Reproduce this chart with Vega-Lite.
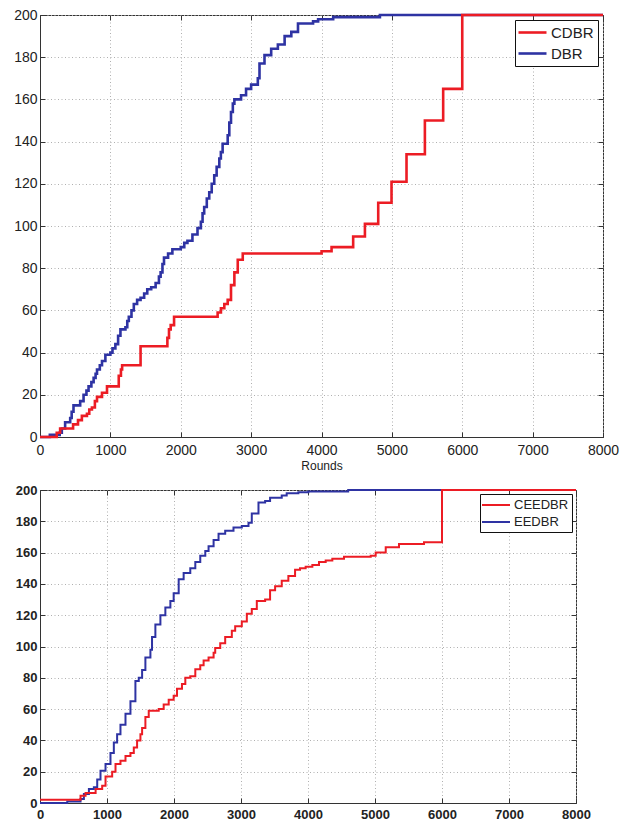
{
  "$schema": "https://vega.github.io/schema/vega-lite/v6.json",
  "padding": {"left": 13, "top": 7, "right": 5, "bottom": 5},
  "background": "white",
  "spacing": 11,
  "config": {
    "font": "Liberation Sans",
    "view": {"stroke": "#333333", "strokeWidth": 1},
    "axis": {"domainColor": "#333333", "tickColor": "#333333", "labelColor": "#222222", "gridColor": "#b0b0b0", "gridDash": [1, 2.5], "gridOpacity": 1, "gridWidth": 1, "tickSize": -5, "labelFlush": false, "labelOverlap": false}
  },
  "datasets": {
    "top": [
      {"x":0,"y":0,"s":"DBR"},{"x":140,"y":1,"s":"DBR"},{"x":280,"y":2,"s":"DBR"},{"x":310,"y":4,"s":"DBR"},{"x":357,"y":7,"s":"DBR"},{"x":429,"y":9,"s":"DBR"},{"x":450,"y":12,"s":"DBR"},{"x":476,"y":15,"s":"DBR"},{"x":571,"y":17,"s":"DBR"},{"x":619,"y":20,"s":"DBR"},{"x":660,"y":22,"s":"DBR"},{"x":690,"y":24,"s":"DBR"},{"x":730,"y":26,"s":"DBR"},{"x":762,"y":28,"s":"DBR"},{"x":790,"y":30,"s":"DBR"},{"x":810,"y":32,"s":"DBR"},{"x":850,"y":34,"s":"DBR"},{"x":881,"y":36,"s":"DBR"},{"x":929,"y":39,"s":"DBR"},{"x":1000,"y":40,"s":"DBR"},{"x":1030,"y":42,"s":"DBR"},{"x":1071,"y":44,"s":"DBR"},{"x":1110,"y":48,"s":"DBR"},{"x":1143,"y":51,"s":"DBR"},{"x":1214,"y":52,"s":"DBR"},{"x":1240,"y":55,"s":"DBR"},{"x":1262,"y":57,"s":"DBR"},{"x":1300,"y":60,"s":"DBR"},{"x":1333,"y":63,"s":"DBR"},{"x":1380,"y":65,"s":"DBR"},{"x":1429,"y":66,"s":"DBR"},{"x":1480,"y":68,"s":"DBR"},{"x":1524,"y":70,"s":"DBR"},{"x":1580,"y":71,"s":"DBR"},{"x":1643,"y":73,"s":"DBR"},{"x":1690,"y":76,"s":"DBR"},{"x":1714,"y":78,"s":"DBR"},{"x":1740,"y":82,"s":"DBR"},{"x":1762,"y":85,"s":"DBR"},{"x":1820,"y":87,"s":"DBR"},{"x":1881,"y":89,"s":"DBR"},{"x":2000,"y":90,"s":"DBR"},{"x":2050,"y":92,"s":"DBR"},{"x":2095,"y":93,"s":"DBR"},{"x":2166,"y":96,"s":"DBR"},{"x":2238,"y":99,"s":"DBR"},{"x":2286,"y":102,"s":"DBR"},{"x":2310,"y":106,"s":"DBR"},{"x":2333,"y":109,"s":"DBR"},{"x":2370,"y":113,"s":"DBR"},{"x":2405,"y":116,"s":"DBR"},{"x":2440,"y":120,"s":"DBR"},{"x":2476,"y":124,"s":"DBR"},{"x":2510,"y":128,"s":"DBR"},{"x":2548,"y":132,"s":"DBR"},{"x":2570,"y":135,"s":"DBR"},{"x":2595,"y":139,"s":"DBR"},{"x":2667,"y":143,"s":"DBR"},{"x":2690,"y":149,"s":"DBR"},{"x":2714,"y":154,"s":"DBR"},{"x":2740,"y":158,"s":"DBR"},{"x":2762,"y":160,"s":"DBR"},{"x":2857,"y":162,"s":"DBR"},{"x":2928,"y":165,"s":"DBR"},{"x":3000,"y":167,"s":"DBR"},{"x":3095,"y":170,"s":"DBR"},{"x":3119,"y":177,"s":"DBR"},{"x":3190,"y":181,"s":"DBR"},{"x":3285,"y":184,"s":"DBR"},{"x":3380,"y":186,"s":"DBR"},{"x":3476,"y":190,"s":"DBR"},{"x":3571,"y":192,"s":"DBR"},{"x":3666,"y":196,"s":"DBR"},{"x":3880,"y":197,"s":"DBR"},{"x":3952,"y":198,"s":"DBR"},{"x":4166,"y":199,"s":"DBR"},{"x":4830,"y":200,"s":"DBR"},{"x":8000,"y":200,"s":"DBR"},
      {"x":0,"y":0,"s":"CDBR"},{"x":238,"y":2,"s":"CDBR"},{"x":286,"y":4,"s":"CDBR"},{"x":470,"y":6,"s":"CDBR"},{"x":540,"y":8,"s":"CDBR"},{"x":595,"y":10,"s":"CDBR"},{"x":667,"y":11,"s":"CDBR"},{"x":700,"y":13,"s":"CDBR"},{"x":738,"y":14,"s":"CDBR"},{"x":780,"y":17,"s":"CDBR"},{"x":810,"y":19,"s":"CDBR"},{"x":881,"y":21,"s":"CDBR"},{"x":952,"y":24,"s":"CDBR"},{"x":1119,"y":29,"s":"CDBR"},{"x":1150,"y":32,"s":"CDBR"},{"x":1167,"y":34,"s":"CDBR"},{"x":1429,"y":43,"s":"CDBR"},{"x":1810,"y":47,"s":"CDBR"},{"x":1833,"y":51,"s":"CDBR"},{"x":1857,"y":53,"s":"CDBR"},{"x":1905,"y":57,"s":"CDBR"},{"x":2476,"y":57,"s":"CDBR"},{"x":2524,"y":59,"s":"CDBR"},{"x":2571,"y":61,"s":"CDBR"},{"x":2619,"y":63,"s":"CDBR"},{"x":2667,"y":65,"s":"CDBR"},{"x":2714,"y":72,"s":"CDBR"},{"x":2762,"y":78,"s":"CDBR"},{"x":2810,"y":84,"s":"CDBR"},{"x":2881,"y":87,"s":"CDBR"},{"x":4001,"y":88,"s":"CDBR"},{"x":4143,"y":90,"s":"CDBR"},{"x":4450,"y":95,"s":"CDBR"},{"x":4617,"y":101,"s":"CDBR"},{"x":4806,"y":111,"s":"CDBR"},{"x":4995,"y":121,"s":"CDBR"},{"x":5208,"y":134,"s":"CDBR"},{"x":5469,"y":150,"s":"CDBR"},{"x":5729,"y":165,"s":"CDBR"},{"x":6000,"y":200,"s":"CDBR"},{"x":8000,"y":200,"s":"CDBR"}
    ],
    "bottom": [
      {"x":0,"y":0,"s":"EEDBR"},{"x":407,"y":1,"s":"EEDBR"},{"x":605,"y":2.5,"s":"EEDBR"},{"x":655,"y":5.7,"s":"EEDBR"},{"x":730,"y":9,"s":"EEDBR"},{"x":804,"y":10,"s":"EEDBR"},{"x":854,"y":15,"s":"EEDBR"},{"x":903,"y":20.6,"s":"EEDBR"},{"x":978,"y":25,"s":"EEDBR"},{"x":1052,"y":32,"s":"EEDBR"},{"x":1102,"y":38.7,"s":"EEDBR"},{"x":1151,"y":44,"s":"EEDBR"},{"x":1201,"y":50,"s":"EEDBR"},{"x":1276,"y":57,"s":"EEDBR"},{"x":1350,"y":65,"s":"EEDBR"},{"x":1424,"y":78,"s":"EEDBR"},{"x":1474,"y":80,"s":"EEDBR"},{"x":1524,"y":85,"s":"EEDBR"},{"x":1573,"y":93,"s":"EEDBR"},{"x":1648,"y":98,"s":"EEDBR"},{"x":1672,"y":106,"s":"EEDBR"},{"x":1722,"y":114,"s":"EEDBR"},{"x":1797,"y":120,"s":"EEDBR"},{"x":1871,"y":125,"s":"EEDBR"},{"x":1946,"y":129,"s":"EEDBR"},{"x":1995,"y":134,"s":"EEDBR"},{"x":2070,"y":143,"s":"EEDBR"},{"x":2144,"y":147,"s":"EEDBR"},{"x":2243,"y":150,"s":"EEDBR"},{"x":2318,"y":154,"s":"EEDBR"},{"x":2392,"y":158,"s":"EEDBR"},{"x":2467,"y":161,"s":"EEDBR"},{"x":2516,"y":164,"s":"EEDBR"},{"x":2591,"y":168,"s":"EEDBR"},{"x":2665,"y":172,"s":"EEDBR"},{"x":2764,"y":174,"s":"EEDBR"},{"x":2888,"y":176,"s":"EEDBR"},{"x":3012,"y":177,"s":"EEDBR"},{"x":3112,"y":179,"s":"EEDBR"},{"x":3161,"y":185,"s":"EEDBR"},{"x":3261,"y":192,"s":"EEDBR"},{"x":3360,"y":193,"s":"EEDBR"},{"x":3434,"y":195,"s":"EEDBR"},{"x":3608,"y":196.5,"s":"EEDBR"},{"x":3682,"y":198,"s":"EEDBR"},{"x":3856,"y":198.5,"s":"EEDBR"},{"x":4005,"y":199,"s":"EEDBR"},{"x":4600,"y":200,"s":"EEDBR"},{"x":8000,"y":200,"s":"EEDBR"},
      {"x":0,"y":2,"s":"CEEDBR"},{"x":580,"y":2,"s":"CEEDBR"},{"x":605,"y":4.7,"s":"CEEDBR"},{"x":680,"y":6.4,"s":"CEEDBR"},{"x":830,"y":9,"s":"CEEDBR"},{"x":928,"y":11,"s":"CEEDBR"},{"x":978,"y":17,"s":"CEEDBR"},{"x":1077,"y":20,"s":"CEEDBR"},{"x":1127,"y":25,"s":"CEEDBR"},{"x":1201,"y":27,"s":"CEEDBR"},{"x":1276,"y":30,"s":"CEEDBR"},{"x":1350,"y":32,"s":"CEEDBR"},{"x":1400,"y":35.5,"s":"CEEDBR"},{"x":1449,"y":40,"s":"CEEDBR"},{"x":1499,"y":44,"s":"CEEDBR"},{"x":1524,"y":48,"s":"CEEDBR"},{"x":1573,"y":55,"s":"CEEDBR"},{"x":1623,"y":59,"s":"CEEDBR"},{"x":1772,"y":60,"s":"CEEDBR"},{"x":1846,"y":63,"s":"CEEDBR"},{"x":1921,"y":66,"s":"CEEDBR"},{"x":1995,"y":68.5,"s":"CEEDBR"},{"x":2045,"y":73,"s":"CEEDBR"},{"x":2119,"y":76,"s":"CEEDBR"},{"x":2169,"y":80,"s":"CEEDBR"},{"x":2243,"y":81,"s":"CEEDBR"},{"x":2318,"y":85.5,"s":"CEEDBR"},{"x":2392,"y":88,"s":"CEEDBR"},{"x":2442,"y":91,"s":"CEEDBR"},{"x":2516,"y":93,"s":"CEEDBR"},{"x":2591,"y":96,"s":"CEEDBR"},{"x":2615,"y":99,"s":"CEEDBR"},{"x":2690,"y":102,"s":"CEEDBR"},{"x":2764,"y":106,"s":"CEEDBR"},{"x":2863,"y":110,"s":"CEEDBR"},{"x":2913,"y":113,"s":"CEEDBR"},{"x":3012,"y":116,"s":"CEEDBR"},{"x":3087,"y":121,"s":"CEEDBR"},{"x":3161,"y":124,"s":"CEEDBR"},{"x":3236,"y":129,"s":"CEEDBR"},{"x":3360,"y":130,"s":"CEEDBR"},{"x":3434,"y":136,"s":"CEEDBR"},{"x":3509,"y":138.5,"s":"CEEDBR"},{"x":3608,"y":142,"s":"CEEDBR"},{"x":3707,"y":145,"s":"CEEDBR"},{"x":3807,"y":149,"s":"CEEDBR"},{"x":3881,"y":150,"s":"CEEDBR"},{"x":3965,"y":151,"s":"CEEDBR"},{"x":4065,"y":152,"s":"CEEDBR"},{"x":4164,"y":154,"s":"CEEDBR"},{"x":4264,"y":155,"s":"CEEDBR"},{"x":4363,"y":156,"s":"CEEDBR"},{"x":4537,"y":157.4,"s":"CEEDBR"},{"x":4936,"y":158,"s":"CEEDBR"},{"x":5010,"y":160,"s":"CEEDBR"},{"x":5160,"y":163.4,"s":"CEEDBR"},{"x":5358,"y":165.5,"s":"CEEDBR"},{"x":5731,"y":166.6,"s":"CEEDBR"},{"x":6000,"y":200,"s":"CEEDBR"},{"x":8000,"y":200,"s":"CEEDBR"}
    ]
  },
  "vconcat": [
    {
      "width": 563,
      "height": 422,
      "data": {"name": "top"},
      "layer": [
        {
          "mark": {"type": "line", "interpolate": "step-after", "strokeWidth": 2.6},
          "encoding": {
            "x": {"field": "x", "type": "quantitative", "scale": {"domain": [0, 8000], "nice": false},
                  "axis": {"orient": "bottom", "values": [0,1000,2000,3000,4000,5000,6000,7000,8000], "format": "d", "title": "Rounds", "titleFontSize": 12, "titleFontWeight": "normal", "titleColor": "#222222", "titlePadding": 3, "labelFontSize": 14, "labelPadding": 11, "grid": true}},
            "y": {"field": "y", "type": "quantitative", "scale": {"domain": [0, 200], "nice": false},
                  "axis": {"orient": "left", "values": [0,20,40,60,80,100,120,140,160,180,200], "title": null, "labelFontSize": 14, "labelPadding": 8, "grid": true}},
            "color": {"field": "s", "type": "nominal", "sort": ["CDBR", "DBR"],
                      "scale": {"domain": ["CDBR", "DBR"], "range": ["#ec1c24", "#2e33a3"]},
                      "legend": {"title": null, "orient": "top-right", "offset": 5, "fillColor": "white", "strokeColor": "#111111", "padding": 4, "rowPadding": 4, "labelFontSize": 15, "labelColor": "#222222", "symbolType": "M-2,0H2", "symbolSize": 196, "symbolStrokeWidth": 2.6, "symbolOffset": 5, "labelOffset": 10}}
          }
        },
        {
          "mark": {"type": "point", "opacity": 0},
          "encoding": {
            "x": {"field": "x", "type": "quantitative", "axis": {"orient": "top", "values": [0,1000,2000,3000,4000,5000,6000,7000,8000], "labels": false, "grid": false, "domain": false, "title": null}},
            "y": {"field": "y", "type": "quantitative", "axis": {"orient": "right", "values": [0,20,40,60,80,100,120,140,160,180,200], "labels": false, "grid": false, "domain": false, "title": null}}
          }
        }
      ]
    },
    {
      "width": 536,
      "height": 313,
      "data": {"name": "bottom"},
      "layer": [
        {
          "mark": {"type": "line", "interpolate": "step-after", "strokeWidth": 2},
          "encoding": {
            "x": {"field": "x", "type": "quantitative", "scale": {"domain": [0, 8000], "nice": false},
                  "axis": {"orient": "bottom", "values": [0,1000,2000,3000,4000,5000,6000,7000,8000], "format": "d", "title": null, "labelFontSize": 13, "labelFontWeight": "bold", "labelPadding": 10, "grid": true}},
            "y": {"field": "y", "type": "quantitative", "scale": {"domain": [0, 200], "nice": false},
                  "axis": {"orient": "left", "values": [0,20,40,60,80,100,120,140,160,180,200], "title": null, "labelFontSize": 13, "labelFontWeight": "bold", "labelPadding": 8, "grid": true}},
            "color": {"field": "s", "type": "nominal", "sort": ["CEEDBR", "EEDBR"],
                      "scale": {"domain": ["CEEDBR", "EEDBR"], "range": ["#ec1c24", "#2e33a3"]},
                      "legend": {"title": null, "orient": "top-right", "offset": 4, "fillColor": "white", "strokeColor": "#111111", "padding": 3, "rowPadding": 2, "labelFontSize": 13, "labelColor": "#222222", "symbolType": "M-2,0H2", "symbolSize": 196, "symbolStrokeWidth": 2, "symbolOffset": 5, "labelOffset": 10}}
          }
        },
        {
          "mark": {"type": "point", "opacity": 0},
          "encoding": {
            "x": {"field": "x", "type": "quantitative", "axis": {"orient": "top", "values": [0,1000,2000,3000,4000,5000,6000,7000,8000], "labels": false, "grid": false, "domain": false, "title": null}},
            "y": {"field": "y", "type": "quantitative", "axis": {"orient": "right", "values": [0,20,40,60,80,100,120,140,160,180,200], "labels": false, "grid": false, "domain": false, "title": null}}
          }
        }
      ]
    }
  ],
  "resolve": {"scale": {"color": "independent"}}
}
